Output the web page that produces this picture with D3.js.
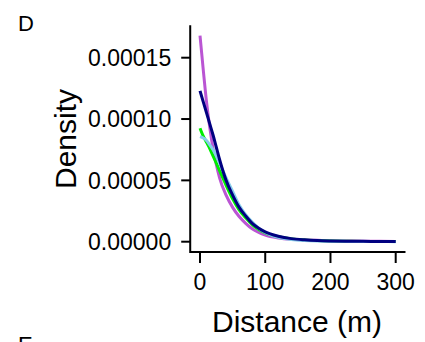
<!DOCTYPE html>
<html>
<head>
<meta charset="utf-8">
<title>Density</title>
<script src="https://d3js.org/d3.v7.min.js"></script>
<style>
  body { margin: 0; background: #fff; }
  text { font-family: Arial, "Liberation Sans", sans-serif; fill: #000; }
</style>
</head>
<body>
<svg id="chart" width="425" height="342"></svg>
<script>
// distance (m) at which each density was read
var distance = [0, 5, 10, 15, 20, 25, 30, 40, 50, 60, 70, 80, 90, 100, 120, 140, 160, 180, 200, 225, 250, 275, 300];

// densities, in units of 1e-6
var purpleVals = [168, 140, 114, 93, 76, 63, 52, 38, 28, 20.5, 15, 10.5, 7.5, 5.3, 3.0, 1.9, 1.4, 1.1, 0.8, 0.6, 0.4, 0.3, 0.2];
var greenVals  = [92.5, 86, 81, 76, 70, 64, 58, 46, 35, 26, 19.5, 14, 10, 7.2, 4.0, 2.3, 1.4, 0.9, 0.6, 0.4, 0.25, 0.15, 0.1];
var blueVals   = [85.6, 84.5, 82.5, 79, 75, 70, 64, 52, 41, 30, 22, 16, 11, 7.5, 3.5, 1.8, 1.0, 0.6, 0.4, 0.25, 0.15, 0.1, 0.05];
var navyVals   = [123, 114, 105, 96, 87, 77, 67, 50, 38, 28, 21, 15, 11, 8, 4.5, 2.5, 1.5, 0.9, 0.6, 0.4, 0.3, 0.2, 0.1];

var seriesNames  = ["purple", "green", "skyblue", "navy"];
var seriesColors = ["#BA55D3", "#00EE00", "#87CEEB", "#000080"];
var seriesVals   = [purpleVals, greenVals, blueVals, navyVals];

var xTicks = [0, 100, 200, 300];
var yTicks = [0, 0.00005, 0.0001, 0.00015];

var svg = d3.select("#chart");

var x = d3.scaleLinear().domain([0, 300]).range([200, 395.7]);
var y = d3.scaleLinear().domain([0, 0.00015]).range([241.7, 57.7]);

// panel edges (5% expansion like ggplot)
var xLo = x(-15), xHi = x(315);
var yLo = y(-0.0000084), yHi = y(0.0001764);

// curves
var line = d3.line()
  .x(function(d) { return x(d[0]); })
  .y(function(d) { return y(d[1] * 1e-6); })
  .curve(d3.curveMonotoneX);

seriesVals.forEach(function(vals, i) {
  svg.append("path")
    .datum(distance.map(function(d, j) { return [d, vals[j]]; }))
    .attr("d", line)
    .attr("fill", "none")
    .attr("stroke", seriesColors[i])
    .attr("stroke-width", 3);
});

// axis lines
svg.append("path")
  .attr("d", "M" + xLo + "," + yHi + "V" + yLo + "H" + xHi)
  .attr("fill", "none")
  .attr("stroke", "#000")
  .attr("stroke-width", 2);

// y ticks
svg.selectAll(".ytick").data(yTicks).enter().append("line")
  .attr("x1", xLo - 9).attr("x2", xLo)
  .attr("y1", function(d) { return y(d); })
  .attr("y2", function(d) { return y(d); })
  .attr("stroke", "#000").attr("stroke-width", 2);

svg.selectAll(".ylab").data(yTicks).enter().append("text")
  .attr("x", xLo - 19)
  .attr("y", function(d) { return y(d); })
  .attr("dy", "0.36em")
  .attr("text-anchor", "end")
  .style("font-size", "23px")
  .text(function(d) { return d.toFixed(5); });

// x ticks
svg.selectAll(".xtick").data(xTicks).enter().append("line")
  .attr("x1", function(d) { return x(d); })
  .attr("x2", function(d) { return x(d); })
  .attr("y1", yLo).attr("y2", yLo + 11)
  .attr("stroke", "#000").attr("stroke-width", 2);

svg.selectAll(".xlab").data(xTicks).enter().append("text")
  .attr("x", function(d) { return x(d); })
  .attr("y", 290)
  .attr("text-anchor", "middle")
  .style("font-size", "23px")
  .text(function(d) { return d; });

// titles
svg.append("text")
  .attr("x", 297).attr("y", 332)
  .attr("text-anchor", "middle")
  .style("font-size", "30px")
  .text("Distance (m)");

svg.append("text")
  .attr("transform", "translate(76,139)rotate(-90)")
  .attr("text-anchor", "middle")
  .style("font-size", "30px")
  .text("Density");

svg.append("text")
  .attr("x", 18).attr("y", 31)
  .style("font-size", "22px")
  .text("D");

// a cut-off label of the next panel just peeks in at the bottom
svg.append("text")
  .attr("x", 18).attr("y", 352)
  .style("font-size", "22px")
  .text("E");
</script>
</body>
</html>
